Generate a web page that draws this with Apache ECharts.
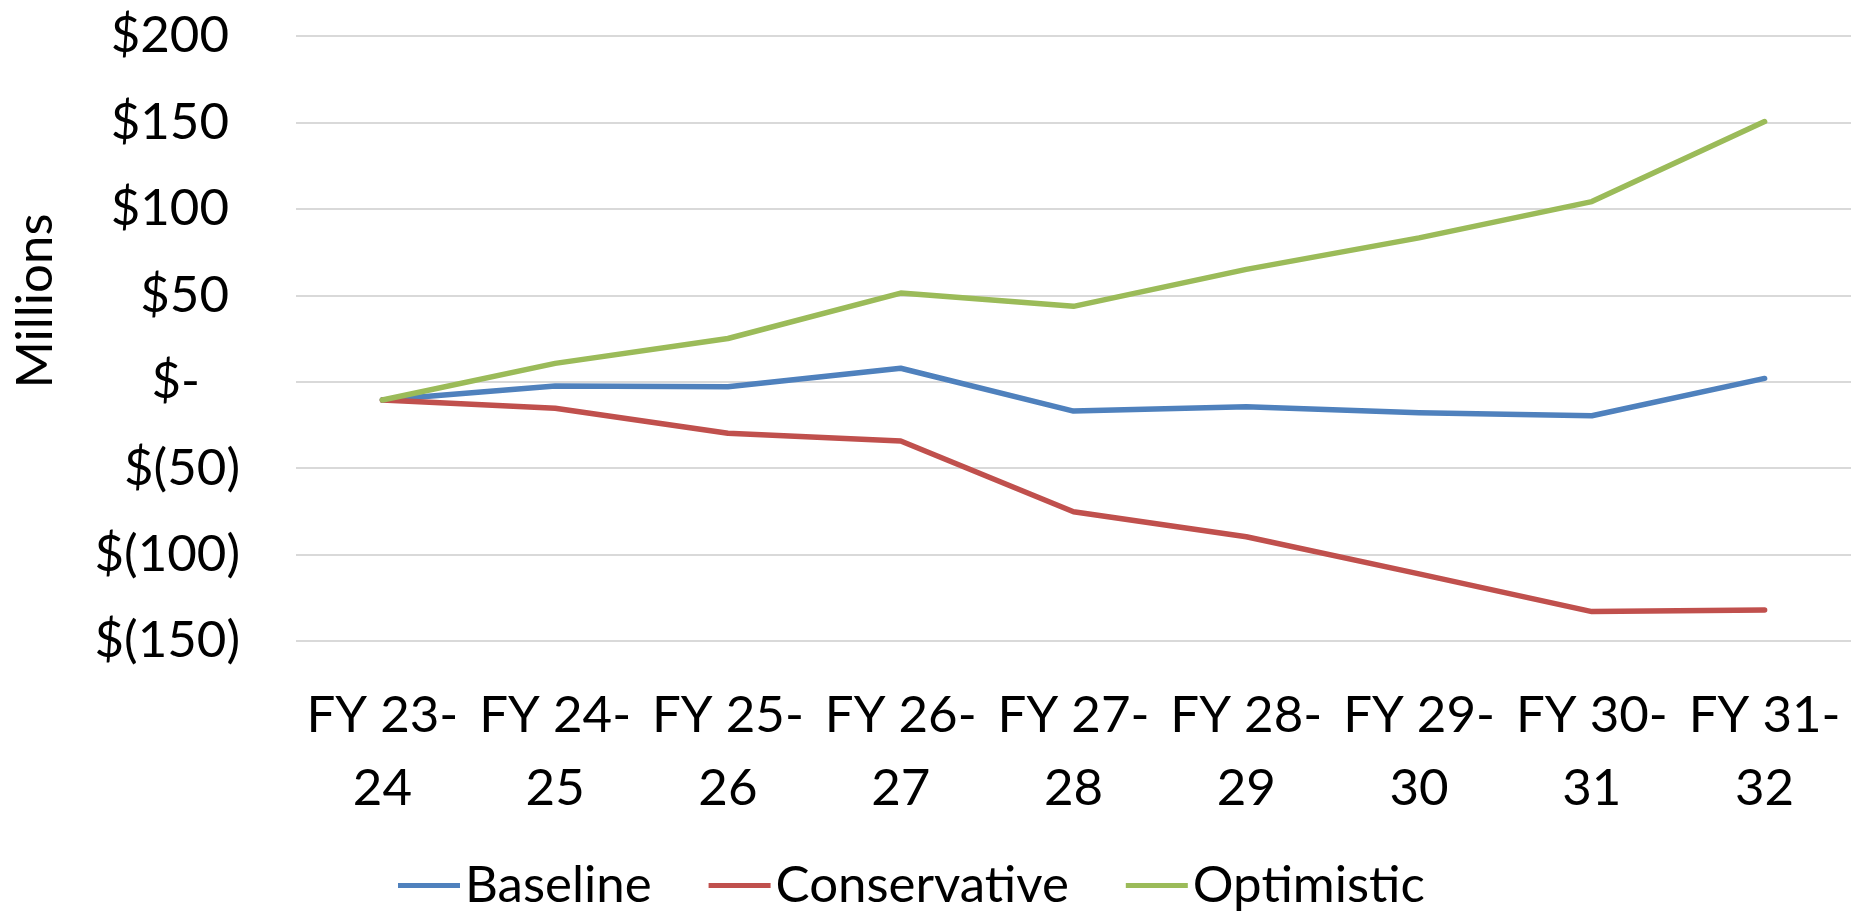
<!DOCTYPE html>
<html>
<head>
<meta charset="utf-8">
<script src="https://cdn.jsdelivr.net/npm/echarts@6/dist/echarts.min.js"></script>
<style>
  html, body { margin: 0; padding: 0; background: #fff; }
  #chart { width: 1860px; height: 911px; }
</style>
</head>
<body>
<div id="chart"></div>
<script>
// categories and values ($ millions)
const categories = ["FY 23-24", "FY 24-25", "FY 25-26", "FY 26-27", "FY 27-28", "FY 28-29", "FY 29-30", "FY 30-31", "FY 31-32"];
const baseline = [-10.6, -2.5, -2.9, 7.8, -17.0, -14.5, -18.0, -19.7, 1.9];
const conservative = [-10.6, -15.4, -29.8, -34.3, -75.2, -89.7, -111.2, -133.0, -132.1];
const optimistic = [-10.6, 10.6, 25.0, 51.3, 43.6, 65.0, 83.2, 104.2, 150.5];
const seriesNames = ["Baseline", "Conservative", "Optimistic"];
const colors = ["#4F81BD", "#C0504D", "#9BBB59"];

const FONT = "Lato";
const FS = 51;

const chart = echarts.init(document.getElementById("chart"));

function lineSeries(name, data, color) {
  return {
    name: name,
    type: "line",
    data: data,
    symbol: "none",
    color: color,
    lineStyle: { width: 5.5, color: color, cap: "round", join: "round" },
    animation: false,
  };
}

const option = {
  backgroundColor: "#fff",
  animation: false,
  grid: { left: 296, right: 9, top: 36, bottom: 270 },
  legend: {
    data: seriesNames,
    left: 393,
    top: 855,
    icon: "rect",
    itemWidth: 62,
    itemHeight: 5,
    itemGap: 57,
    textStyle: { fontFamily: FONT, fontSize: FS, color: "#000" },
  },
  xAxis: {
    type: "category",
    data: categories,
    boundaryGap: true,
    axisLine: { show: false },
    axisTick: { show: false },
    axisLabel: {
      interval: 0,
      margin: 38,
      color: "#000",
      fontFamily: FONT,
      fontSize: FS,
      lineHeight: 73,
      formatter: (name) => name.replace("-", "-\n"),
    },
  },
  yAxis: {
    type: "value",
    min: -150,
    max: 200,
    interval: 50,
    axisLine: { show: false },
    axisTick: { show: false },
    splitLine: { lineStyle: { color: "#D9D9D9", width: 2 } },
    axisLabel: {
      margin: 56,
      color: "#000",
      fontFamily: FONT,
      fontSize: FS,
      formatter: (v) => {
        if (v === 0) return "{z|$-}";
        if (v < 0) return "{n|$(" + -v + ")}";
        return "{p|$" + v + "}";
      },
      rich: {
        p: { fontFamily: FONT, fontSize: FS, color: "#000", padding: [0, 11, 0, 0] },
        z: { fontFamily: FONT, fontSize: FS, color: "#000", padding: [0, 40, 0, 0] },
        n: { fontFamily: FONT, fontSize: FS, color: "#000" },
      },
    },
  },
  graphic: [
    {
      type: "text",
      x: 36,
      y: 301,
      rotation: Math.PI / 2,
      style: {
        text: "Millions",
        fontFamily: FONT,
        fontSize: FS,
        fill: "#000",
        align: "center",
        verticalAlign: "middle",
      },
    },
  ],
  series: [
    lineSeries(seriesNames[0], baseline, colors[0]),
    lineSeries(seriesNames[1], conservative, colors[1]),
    lineSeries(seriesNames[2], optimistic, colors[2]),
  ],
};

chart.setOption(option);
</script>
</body>
</html>
